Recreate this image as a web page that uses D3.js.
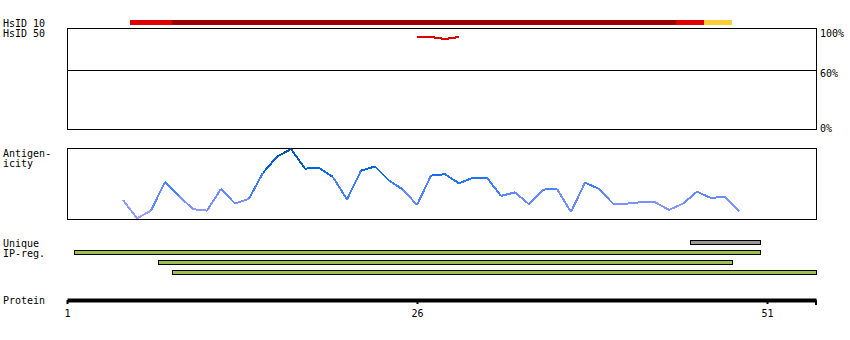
<!DOCTYPE html>
<html>
<head>
<meta charset="utf-8">
<script src="https://cdn.jsdelivr.net/npm/d3@7"></script>
<style>
  body { margin: 0; background: #fff; }
  text { font-family: "DejaVu Sans Mono", monospace; font-size: 10px; fill: #000; }
</style>
</head>
<body>
<svg id="chart" width="850" height="340"></svg>
<script>
  // protein + axis
  const proteinLength = 54;
  const axisTicks = [1, 26, 51];

  // HsID 10 identity segments (residue ranges)
  const hsid10Start = [6, 9, 45, 47];
  const hsid10End = [8, 44, 46, 48];
  const hsid10Level = ["medium", "high", "medium", "low"];

  // HsID 50 identity line (%)
  const hsid50Residues = [26, 27, 28, 29];
  const hsid50Values = [93, 93, 91, 93];
  const identityTicks = [100, 60, 0];

  // antigenicity score per residue
  const antigenResidues = [5, 6, 7, 8, 9, 10, 11, 12, 13, 14, 15, 16, 17, 18, 19, 20, 21, 22, 23, 24, 25,
    26, 27, 28, 29, 30, 31, 32, 33, 34, 35, 36, 37, 38, 39, 40, 41, 42, 43, 44, 45, 46, 47, 48, 49];
  const antigenValues = [27, 1, 12, 53, 33, 14, 12, 43, 22, 29, 66, 89, 100, 72, 73, 60, 28, 69, 75, 55, 42,
    20, 62, 64, 51, 59, 59, 33, 38, 21, 42, 43, 10, 52, 43, 22, 22, 24, 24, 13, 22, 39, 30, 32, 11];

  // unique IP regions
  const regionStart = [46, 2, 8, 9];
  const regionEnd = [50, 50, 48, 54];
  const regionKind = ["shared", "unique", "unique", "unique"];

  const svg = d3.select("#chart");
  const x = d3.scaleLinear().domain([1, proteinLength + 0.5]).range([67, 816]);

  // side labels
  const labels = [["HsID 10", 27], ["HsID 50", 37], ["Antigen-", 157], ["icity", 167],
    ["Unique", 247], ["IP-reg.", 257], ["Protein", 304]];
  svg.append("g").selectAll("text").data(labels).join("text")
    .attr("x", 3).attr("y", d => d[1]).text(d => d[0]);

  // HsID 10 bar
  const levelColor = d3.scaleOrdinal().domain(["high", "medium", "low"])
    .range(["#990000", "#e00000", "#ffcc33"]);
  svg.append("g").selectAll("rect").data(hsid10Start).join("rect")
    .attr("x", d => x(d - 0.5))
    .attr("width", (d, i) => x(hsid10End[i] + 0.5) - x(d - 0.5))
    .attr("y", 20).attr("height", 5)
    .attr("fill", (d, i) => levelColor(hsid10Level[i]));

  // HsID 50 panel
  const yId = d3.scaleLinear().domain([0, 100]).range([130, 30]);
  svg.append("rect")
    .attr("x", 67.5).attr("y", 28.5).attr("width", 749).attr("height", 101)
    .attr("fill", "none").attr("stroke", "#000");
  svg.append("line")
    .attr("x1", 67).attr("x2", 817)
    .attr("y1", yId(60) + 0.5).attr("y2", yId(60) + 0.5)
    .attr("stroke", "#000");
  svg.append("g").selectAll("text").data(identityTicks).join("text")
    .attr("x", 820).attr("y", d => Math.min(yId(d) + 6.5, 132))
    .text(d => d + "%");

  const idLine = d3.line().x(d => x(d)).y((d, i) => yId(hsid50Values[i]));
  svg.append("path")
    .attr("d", idLine(hsid50Residues))
    .attr("fill", "none").attr("stroke", "#dd0000").attr("stroke-width", 2)
    .attr("shape-rendering", "crispEdges");

  // antigenicity panel
  const yAg = d3.scaleLinear().domain([0, 100]).range([219, 149]);
  svg.append("rect")
    .attr("x", 67.5).attr("y", 148.5).attr("width", 749).attr("height", 71)
    .attr("fill", "none").attr("stroke", "#000");

  const agColor = d3.scaleLinear().domain([0, 25, 50, 70, 100])
    .range(["#a8a4ff", "#7890ff", "#3a7cff", "#0066dd", "#0050b0"]);
  const agPoints = antigenResidues.map((r, i) => [r, antigenValues[i]]);
  svg.append("g").selectAll("line").data(d3.pairs(agPoints)).join("line")
    .attr("x1", d => x(d[0][0])).attr("y1", d => yAg(d[0][1]))
    .attr("x2", d => x(d[1][0])).attr("y2", d => yAg(d[1][1]))
    .attr("stroke", d => agColor((d[0][1] + d[1][1]) / 2))
    .attr("stroke-width", 2)
    .attr("shape-rendering", "crispEdges");

  // unique IP regions
  const row = d3.scaleBand().domain(d3.range(regionStart.length)).range([240, 280]);
  const kindColor = d3.scaleOrdinal().domain(["shared", "unique"]).range(["#999999", "#99c050"]);
  svg.append("g").selectAll("rect").data(regionStart).join("rect")
    .attr("x", d => x(d - 0.5) + 0.5)
    .attr("width", (d, i) => x(regionEnd[i] + 0.5) - x(d - 0.5))
    .attr("y", (d, i) => row(i) + 0.5).attr("height", 4)
    .attr("fill", (d, i) => kindColor(regionKind[i]))
    .attr("stroke", "#000");

  // protein axis
  const axis = d3.axisBottom(x).tickValues(axisTicks).tickSize(4).tickSizeOuter(0)
    .tickPadding(6).tickFormat(d3.format("d"));
  const gAxis = svg.append("g").attr("transform", "translate(0,300)").call(axis);
  gAxis.select(".domain").attr("stroke-width", 4);
  gAxis.selectAll(".tick line").attr("stroke-width", 2);
  gAxis.selectAll(".tick text")
    .style("font-family", "'DejaVu Sans Mono', monospace").style("font-size", "10px");
  gAxis.append("line")
    .attr("x1", x(proteinLength + 0.5)).attr("x2", x(proteinLength + 0.5))
    .attr("y1", 0).attr("y2", 5)
    .attr("stroke", "#000").attr("stroke-width", 2);
</script>
</body>
</html>
